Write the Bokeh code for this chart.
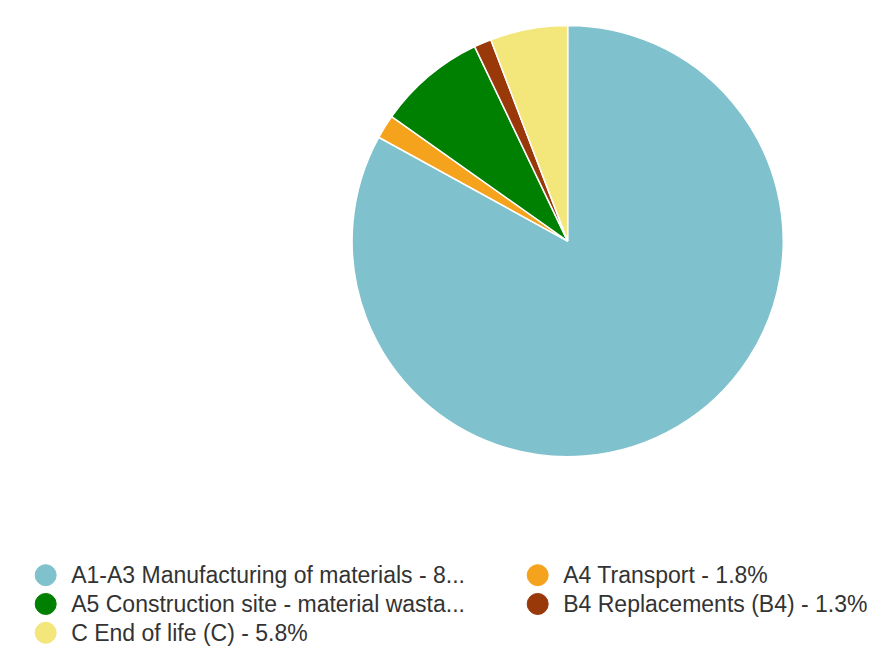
import math
from bokeh.plotting import figure
from bokeh.models import ColumnDataSource, Range1d
from bokeh.core.properties import value
from bokeh.embed import file_html
from bokeh.resources import INLINE

# ---- data ----
categories = ["A1-A3 Manufacturing of materials", "A4 Transport",
              "A5 Construction site - material wastage", "B4 Replacements (B4)",
              "C End of life (C)"]
shares = [83.0, 1.8, 8.1, 1.3, 5.8]
colors = ["#7fc1cc", "#f5a21c", "#008000", "#993808", "#f3e67a"]
legend_labels = ["A1-A3 Manufacturing of materials - 8...", "A4 Transport - 1.8%",
                 "A5 Construction site - material wasta...", "B4 Replacements (B4) - 1.3%",
                 "C End of life (C) - 5.8%"]

# ---- layout (data units = reference pixels, 893 x 671 frame) ----
FW, FH = 893, 671
W, H = 877, 655
p = figure(width=W, height=H, output_backend="svg", toolbar_location=None,
           x_range=Range1d(0, FW), y_range=Range1d(0, FH), min_border=0)
p.axis.visible = False
p.grid.visible = False
p.outline_line_color = None

cx, cy, r = 577.5, FH - 246.5, 219.5
total = sum(shares)
starts, ends = [], []
acc = 0.0
for s in shares:
    starts.append(math.pi / 2 - 2 * math.pi * acc / total)
    acc += s
    ends.append(math.pi / 2 - 2 * math.pi * acc / total)

src = ColumnDataSource(dict(start=starts, end=ends, color=colors, cat=categories))
p.wedge(x=cx, y=cy, radius=r, start_angle="start", end_angle="end", direction="clock",
        fill_color="color", line_color="white", line_width=1.5, source=src)

# legend: 2 columns, row-major
col_x = [46, 547]
row_y = [FH - 588.7, FH - 618.2, FH - 647.7]
lx, ly, tx = [], [], []
for i in range(len(categories)):
    c, rw = i % 2, i // 2
    lx.append(col_x[c]); ly.append(row_y[rw])
    tx.append(col_x[c] + 26)

lsrc = ColumnDataSource(dict(x=lx, y=ly, tx=tx, color=colors, label=legend_labels))
p.scatter(x="x", y="y", size=21, marker="circle", fill_color="color",
          line_color="color", source=lsrc)
p.text(x="tx", y="y", text="label", source=lsrc, text_font=value("Liberation Sans"),
       text_font_size="23px", text_color="#333333", text_baseline="middle",
       text_align="left")

open("out.html", "w").write(file_html(p, INLINE))
